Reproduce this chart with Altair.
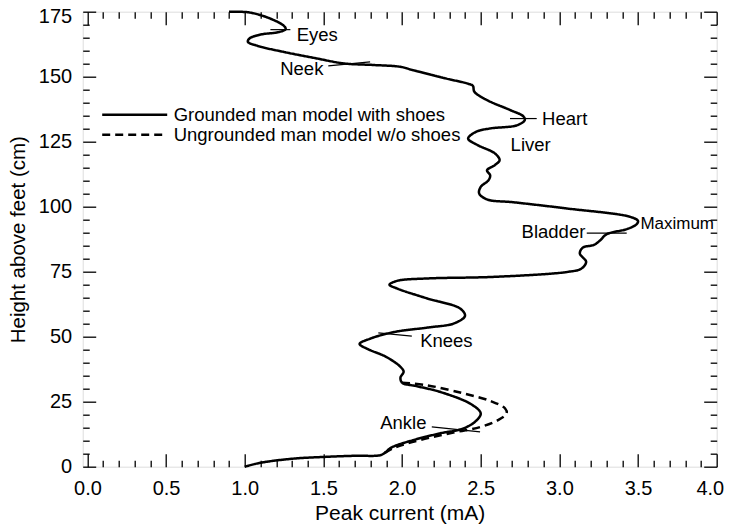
import altair as alt
import pandas as pd

# ---- data ----
series_names = ["Grounded man model with shoes", "Ungrounded man model w/o shoes"]

solid_x = [1.00, 1.10, 1.31, 1.52, 1.70, 1.86, 1.89, 1.93, 2.07, 2.24, 2.39, 2.47, 2.50,
           2.44, 2.24, 2.09, 2.00, 1.99, 2.01, 1.99, 1.90, 1.78, 1.73, 1.80, 1.95, 2.16,
           2.33, 2.40, 2.37, 2.16, 1.97, 1.92, 1.97, 2.16, 2.58, 3.05, 3.14, 3.17, 3.13,
           3.15, 3.22, 3.26, 3.30, 3.43, 3.49, 3.50, 3.45, 3.05, 2.71, 2.54, 2.49, 2.50,
           2.55, 2.56, 2.54, 2.59, 2.62, 2.59, 2.48, 2.42, 2.47, 2.56, 2.73, 2.78, 2.77,
           2.69, 2.54, 2.46, 2.45, 2.42, 2.28, 2.07, 1.99, 1.82, 1.63, 1.46, 1.25, 1.08,
           1.02, 1.03, 1.10, 1.22, 1.26, 1.25, 1.16, 1.03, 0.90]
solid_y = [0.0, 1.5, 3.1, 3.8, 4.2, 4.4, 5.3, 7.3, 10.2, 12.8, 14.7, 17.6, 20.5,
           24.0, 28.8, 31.0, 32.3, 34.3, 36.5, 38.4, 42.2, 45.3, 47.2, 49.3, 51.8, 53.5,
           55.1, 58.0, 60.8, 64.7, 68.5, 70.0, 71.5, 72.4, 73.0, 74.9, 76.2, 78.8, 82.0,
           84.3, 85.3, 87.1, 89.4, 91.4, 93.2, 94.5, 96.1, 99.3, 101.7, 102.8, 105.1, 107.6,
           110.2, 112.1, 114.0, 116.0, 117.9, 120.5, 123.7, 126.2, 128.8, 130.1, 131.3, 133.3, 134.8,
           137.1, 141.0, 144.2, 146.5, 147.3, 149.3, 152.5, 153.8, 154.5, 155.1, 157.0, 159.5, 161.9,
           163.4, 164.7, 166.2, 167.2, 168.3, 169.5, 172.4, 174.7, 175.0]

dash_x = [1.89, 1.94, 2.03, 2.18, 2.35, 2.50, 2.61, 2.665, 2.655, 2.56, 2.39, 2.16, 2.00]
dash_y = [5.3, 7.0, 8.9, 11.2, 13.4, 15.3, 17.9, 20.5, 22.4, 25.3, 28.2, 31.3, 32.3]

# annotations
ann_left_text = ["Eyes", "Heart", "Liver", "Knees"]
ann_left_x = [1.33, 2.89, 2.69, 2.115]
ann_left_y = [166.2, 133.9, 123.7, 48.4]
ann_right_text = ["Neek", "Bladder", "Ankle"]
ann_right_x = [1.50, 3.165, 2.155]
ann_right_y = [152.9, 90.3, 16.8]
ann_max_text = ["Maximum"]
ann_max_x = [3.515]
ann_max_y = [93.3]

lead_x1 = [1.163, 1.531, 2.686, 3.174, 1.849, 2.189]
lead_x2 = [1.290, 1.797, 2.856, 3.428, 2.062, 2.496]
lead_y1 = [168.1, 154.2, 133.9, 89.8, 51.5, 15.3]
lead_y2 = [168.1, 155.7, 133.9, 89.8, 50.2, 13.4]

x_major = [0.0, 0.5, 1.0, 1.5, 2.0, 2.5, 3.0, 3.5, 4.0]
x_minor = [round(i * 0.1, 1) for i in range(41) if i % 5 != 0]
y_major = [0, 25, 50, 75, 100, 125, 150, 175]
y_minor = [i * 5 for i in range(36) if i % 5 != 0]

# ---- tables ----
curve = pd.concat([
    pd.DataFrame({"x": solid_x, "y": solid_y, "i": range(len(solid_x)), "series": series_names[0]}),
    pd.DataFrame({"x": dash_x, "y": dash_y, "i": range(len(dash_x)), "series": series_names[1]}),
])
left_df = pd.DataFrame({"x": ann_left_x, "y": ann_left_y, "t": ann_left_text})
right_df = pd.DataFrame({"x": ann_right_x, "y": ann_right_y, "t": ann_right_text})
max_df = pd.DataFrame({"x": ann_max_x, "y": ann_max_y, "t": ann_max_text})
lead_df = pd.DataFrame({"x": lead_x1, "x2": lead_x2, "y": lead_y1, "y2": lead_y2})

FONT = "Liberation Sans"
xs = alt.Scale(domain=[-0.03, 4.0], nice=False, zero=False)
ys = alt.Scale(domain=[0, 175], nice=False, zero=False)


def tick_axis(orient, values, size):
    return alt.Axis(orient=orient, values=values, labels=False, domain=False, grid=False,
                    ticks=True, tickSize=size, offset=-size, tickColor="black",
                    tickWidth=1.3, title=None)


label_x_axis = alt.Axis(orient="bottom", values=x_major, format=".1f", ticks=False, domain=False,
                        grid=False, labelPadding=12, labelFontSize=20, labelFont=FONT,
                        labelColor="black", labelFlush=1, labelFlushOffset=7,
                        labelOverlap=False,
                        title="Peak current (mA)", titleFont=FONT,
                        titleFontSize=21, titleFontWeight="normal", titleColor="black",
                        titlePadding=4)
label_y_axis = alt.Axis(orient="left", values=y_major, ticks=False, domain=False, grid=False,
                        labelPadding=11, labelFontSize=20, labelFont=FONT, labelColor="black",
                        labelFlush=False, labelOverlap=False,
                        labelOffset={"condition": {"test": "datum.value == 175", "value": 4.5},
                                     "value": 0},
                        title="Height above feet (cm)", titleFont=FONT, titleFontSize=20.5,
                        titleFontWeight="normal", titleColor="black", titlePadding=10)

lines = alt.Chart(curve).mark_line(color="black", strokeWidth=2.5, interpolate="catmull-rom").encode(
    x=alt.X("x:Q", scale=xs, axis=label_x_axis),
    y=alt.Y("y:Q", scale=ys, axis=label_y_axis),
    order=alt.Order("i:Q"),
    strokeDash=alt.StrokeDash(
        "series:N",
        scale=alt.Scale(domain=series_names, range=[[1, 0], [8, 5]]),
        legend=alt.Legend(title=None, orient="none", legendX=18, legendY=93,
                          symbolType="stroke", symbolSize=4225, symbolStrokeWidth=2.5,
                          symbolStrokeColor="black", labelFontSize=18.5, labelFont=FONT,
                          labelColor="black", labelOffset=5, clipHeight=20, rowPadding=0,
                          padding=0, labelLimit=400),
    ),
)

text_left = alt.Chart(left_df).mark_text(align="left", baseline="middle", fontSize=18.5,
                                         font=FONT, color="black").encode(
    x=alt.X("x:Q", scale=xs, axis=tick_axis("bottom", x_major, 13)),
    y=alt.Y("y:Q", scale=ys, axis=tick_axis("left", y_major, 13)),
    text="t:N",
)
text_right = alt.Chart(right_df).mark_text(align="right", baseline="middle", fontSize=18.5,
                                           font=FONT, color="black").encode(
    x=alt.X("x:Q", scale=xs, axis=tick_axis("bottom", x_minor, 6.5)),
    y=alt.Y("y:Q", scale=ys, axis=tick_axis("left", y_minor, 6.5)),
    text="t:N",
)
text_max = alt.Chart(max_df).mark_text(align="left", baseline="middle", fontSize=17,
                                       font=FONT, color="black").encode(
    x=alt.X("x:Q", scale=xs, axis=tick_axis("top", x_major, 13)),
    y=alt.Y("y:Q", scale=ys, axis=tick_axis("right", y_major, 13)),
    text="t:N",
)
leaders = alt.Chart(lead_df).mark_rule(color="black", strokeWidth=1.2).encode(
    x=alt.X("x:Q", scale=xs, axis=tick_axis("top", x_minor, 6.5)),
    x2="x2:Q",
    y=alt.Y("y:Q", scale=ys, axis=tick_axis("right", y_minor, 6.5)),
    y2="y2:Q",
)

chart = alt.layer(lines, leaders, text_left, text_right, text_max).resolve_scale(
    x="shared", y="shared"
).resolve_axis(
    x="independent", y="independent"
).properties(
    width=634, height=455,
    autosize=alt.AutoSizeParams(type="none"),
    padding={"left": 74.7, "top": 3.7, "right": 7.3, "bottom": 60},
).configure_view(
    stroke="black", strokeWidth=1.3
).configure(background="white")

chart.save("out.html", embed_options={"renderer": "svg", "actions": False})
